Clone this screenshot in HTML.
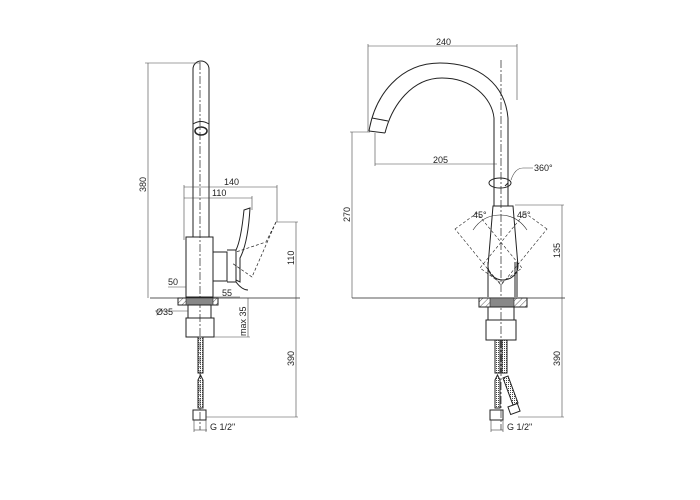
<!DOCTYPE html>
<html><head><style>body{margin:0;background:#fff}svg{display:block}text{font-family:"Liberation Sans",sans-serif;font-size:9px;fill:#222}</style></head>
<body>
<svg width="700" height="500" viewBox="0 0 700 500" xmlns="http://www.w3.org/2000/svg">
<defs>
<pattern id="h" width="4" height="4" patternUnits="userSpaceOnUse" patternTransform="rotate(45)"><line x1="0" y1="0" x2="0" y2="4" stroke="#333" stroke-width="0.8"/></pattern>
<pattern id="b" width="2" height="2" patternUnits="userSpaceOnUse"><rect width="1" height="1" fill="#444"/></pattern>
</defs>
<g fill="none" stroke="#222" stroke-width="1">
<!-- LEFT VIEW -->
<path d="M193,237 V69 a8,8 0 0 1 16,0 V237"/>
<path d="M193,124 q8,-5 16,0"/>
<ellipse cx="201" cy="131" rx="6" ry="4" stroke-width="1.5"/>
<line x1="200" y1="62" x2="200" y2="430" stroke-dasharray="8,2,2,2" stroke-width="0.7"/>
<rect x="186" y="237" width="27" height="60"/>
<path d="M213,252 h14 v29 h-14"/>
<path d="M227,250 h9 v32 h-9"/>
<path d="M236,250 q5,-10 8,-40 l6,-2 q-2,35 -10,50 v24 l-4,-2"/>
<path d="M236,282 q6,8 12,8" />
<path d="M276,222 l-24,55 l-20,-14" stroke-dasharray="3,2" stroke-width="0.7"/>
<path d="M276,222 l-10,20 l-30,10" stroke-dasharray="3,2" stroke-width="0.7"/>
<line x1="150" y1="298" x2="300" y2="298" stroke-width="0.8"/>
<rect x="178" y="298" width="40" height="7" fill="url(#h)"/>
<rect x="186" y="298" width="27" height="7" fill="#888" stroke-width="0.6"/>
<rect x="188" y="305" width="23" height="13"/>
<rect x="186" y="318" width="28" height="19"/>
<rect x="198" y="337" width="5" height="36" fill="url(#b)"/>
<path d="M198,380 l2.5,-5 l2.5,5 v28 h-5z" fill="url(#b)"/>
<rect x="193" y="410" width="13" height="10"/>
<!-- left dims -->
<g stroke-width="0.6" stroke="#444">
<line x1="148" y1="63" x2="148" y2="298"/><line x1="145" y1="63" x2="200" y2="63"/>
<line x1="184" y1="187" x2="277" y2="187"/><line x1="184" y1="185" x2="184" y2="240"/><line x1="277" y1="185" x2="277" y2="222"/>
<line x1="184" y1="198" x2="252" y2="198"/><line x1="252" y1="196" x2="252" y2="210"/>
<line x1="276" y1="222" x2="298" y2="222"/><line x1="296" y1="222" x2="296" y2="298"/>
<line x1="168" y1="287" x2="186" y2="287"/>
<line x1="213" y1="297" x2="240" y2="297"/>
<line x1="155" y1="311" x2="188" y2="311"/>
<line x1="248" y1="298" x2="248" y2="337"/><line x1="214" y1="337" x2="250" y2="337"/>
<line x1="296" y1="298" x2="296" y2="417"/><line x1="206" y1="417" x2="298" y2="417"/>
<line x1="194" y1="420" x2="194" y2="432"/><line x1="194" y1="430" x2="207" y2="430"/><line x1="206" y1="420" x2="206" y2="432"/>
</g>
<!-- RIGHT VIEW -->
<path d="M369,131 C375,95 400,63 440,63 C480,63 505,85 508,118 V206"/>
<path d="M385,133 C392,105 412,78 442,78 C472,78 492,98 494,118 V206"/>
<path d="M369,131 L385,133 M372,118 L388,121"/>
<ellipse cx="500" cy="183" rx="11" ry="5"/>
<path d="M508,183 l-3,3"/>
<line x1="501" y1="60" x2="501" y2="430" stroke-dasharray="8,2,2,2" stroke-width="0.7"/>
<path d="M493,206 h20 l5,60 a15,14 0 0 1 -30,0 z"/>
<path d="M488,262 V297 M515,262 V297 M517,262 V297"/>
<path d="M455,229 l22,-16 l45,55 l-22,16 z" stroke-dasharray="3,2" stroke-width="0.6"/>
<path d="M547,229 l-22,-16 l-45,55 l22,16 z" stroke-dasharray="3,2" stroke-width="0.6"/>
<path d="M473,230 q10,-15 27,-15 q17,0 27,15" stroke-width="0.6"/>
<line x1="352" y1="298" x2="565" y2="298" stroke-width="0.8"/>
<rect x="479" y="298" width="48" height="9" fill="url(#h)"/>
<rect x="490" y="298" width="24" height="9" fill="#888" stroke-width="0.6"/>
<rect x="488" y="307" width="26" height="13"/>
<rect x="486" y="320" width="30" height="20"/>
<rect x="495" y="340" width="5" height="33" fill="url(#b)"/>
<rect x="502" y="340" width="5" height="33" fill="url(#b)"/>
<path d="M495,380 l2.5,-5 l2.5,5 v28 h-5z" fill="url(#b)"/>
<path d="M503,378 l5,-2 l10,27 l-5,2z" fill="url(#b)"/>
<rect x="490" y="410" width="13" height="10"/>
<rect x="509" y="405" width="10" height="8" transform="rotate(-20 514 409)"/>
<g stroke-width="0.6" stroke="#444">
<line x1="368" y1="46" x2="517" y2="46"/><line x1="368" y1="44" x2="368" y2="132"/><line x1="517" y1="44" x2="517" y2="100"/>
<line x1="375" y1="164" x2="497" y2="164"/><line x1="375" y1="133" x2="375" y2="166"/>
<line x1="352" y1="132" x2="352" y2="298"/><line x1="350" y1="132" x2="370" y2="132"/>
<line x1="515" y1="205" x2="564" y2="205"/><line x1="562" y1="205" x2="562" y2="298"/>
<line x1="562" y1="298" x2="562" y2="417"/><line x1="518" y1="417" x2="564" y2="417"/>
<line x1="491" y1="420" x2="491" y2="432"/><line x1="491" y1="430" x2="503" y2="430"/><line x1="503" y1="420" x2="503" y2="432"/>
<path d="M511,180 q4,-12 12,-12 h10"/>
</g>
</g>
<text x="224" y="185">140</text>
<text x="212" y="196">110</text>
<text x="168" y="285">50</text>
<text x="222" y="296">55</text>
<text x="156" y="315">Ø35</text>
<text x="210" y="430">G 1/2"</text>
<text x="507" y="430">G 1/2"</text>
<text x="436" y="45">240</text>
<text x="433" y="163">205</text>
<text x="534" y="171">360°</text>
<text x="473" y="218" font-size="8">45°</text>
<text x="517" y="218" font-size="8">45°</text>
<text transform="translate(146,192) rotate(-90)">380</text>
<text transform="translate(294,265) rotate(-90)">110</text>
<text transform="translate(246,336) rotate(-90)">max 35</text>
<text transform="translate(294,366) rotate(-90)">390</text>
<text transform="translate(350,222) rotate(-90)">270</text>
<text transform="translate(560,258) rotate(-90)">135</text>
<text transform="translate(560,366) rotate(-90)">390</text>
</svg>
</body></html>
